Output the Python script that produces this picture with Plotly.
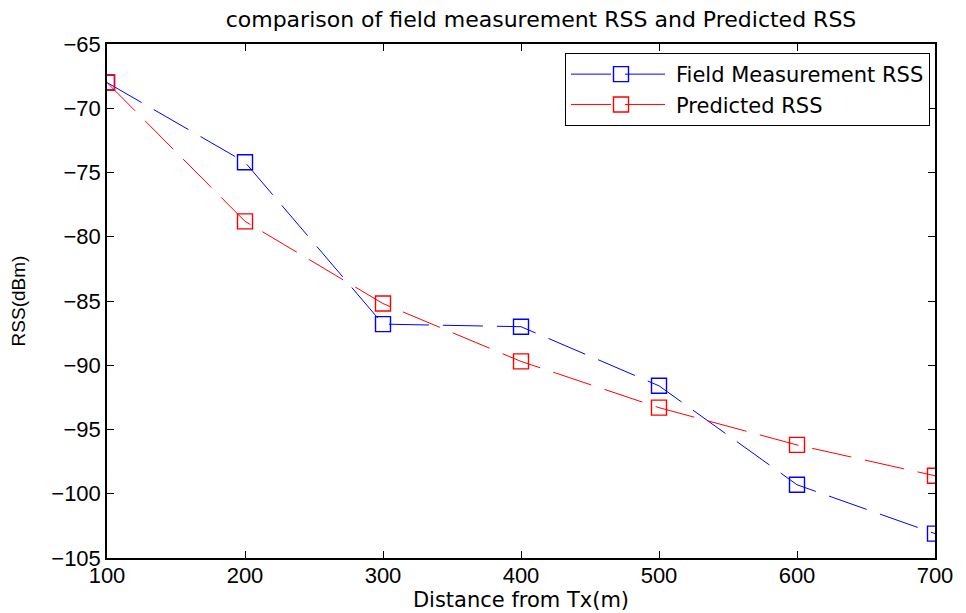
import plotly.graph_objects as go

distance = [100, 200, 300, 400, 500, 600, 700]
field_rss = [-68.0, -74.2, -86.8, -87.0, -91.6, -99.3, -103.1]
predicted_rss = [-68.0, -78.8, -85.2, -89.7, -93.3, -96.2, -98.6]

FONT = "Liberation Sans, Arial"
WIDE = "DejaVu Sans, Liberation Sans, Arial"
DASH = "40px,14px"

fig = go.Figure()
fig.add_trace(go.Scatter(
    x=distance, y=field_rss, mode="lines+markers", name="Field Measurement RSS",
    line=dict(color="#0000ff", width=1, dash=DASH),
    marker=dict(symbol="square-open", size=15, color="#0000ff", line=dict(width=1.4)),
))
fig.add_trace(go.Scatter(
    x=distance, y=predicted_rss, mode="lines+markers", name="Predicted RSS",
    line=dict(color="#ff0000", width=1, dash=DASH),
    marker=dict(symbol="square-open", size=15, color="#ff0000", line=dict(width=1.4)),
))

axis_common = dict(
    showgrid=False, zeroline=False, showline=True, linecolor="black", linewidth=1.5,
    mirror="ticks", ticks="inside", ticklen=7, tickcolor="black", automargin=False,
    tickfont=dict(family=FONT, size=22, color="black"),
)
# page body has an 8px margin: figure is drawn at (8, 8)
W, H = 958, 605
fig.update_layout(
    width=W, height=H,
    margin=dict(l=99, r=31, t=36, b=55),
    paper_bgcolor="white", plot_bgcolor="white",
    title=dict(text="comparison of field measurement RSS and Predicted RSS",
               x=533 / W, xanchor="center", xref="container", y=1 - 11 / H, yanchor="middle",
               automargin=False,
               font=dict(family=WIDE, size=22, color="black")),
    xaxis=dict(range=[100, 700], tickmode="array", tickvals=distance, ticklabelstandoff=-3,
               title=dict(text="Distance from Tx(m)", standoff=0,
                          font=dict(family=WIDE, size=21, color="black")),
               **axis_common),
    yaxis=dict(range=[-105, -65], tickmode="linear", tick0=-105, dtick=5,
               title=dict(text="RSS(dBm)", standoff=30,
                          font=dict(family=FONT, size=19, color="black")),
               **axis_common),
    legend=dict(x=(930 - 107) / (935 - 107), xref="paper", xanchor="right",
                y=1 - 9 / 514, yanchor="top",
                bordercolor="black", borderwidth=1, bgcolor="white",
                font=dict(family=WIDE, size=21, color="black"),
                itemwidth=100, tracegroupgap=0),
    showlegend=True,
)
fig.write_html("out.html")
